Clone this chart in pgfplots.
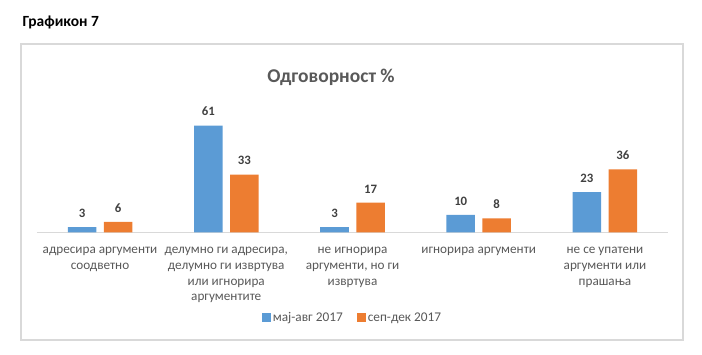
\documentclass[border=0pt]{standalone}
\usepackage{pgfplots}
\pgfplotsset{compat=1.18}
\usepackage{fontspec}
\setmainfont{Carlito}
\definecolor{cblue}{HTML}{5B9BD5}
\definecolor{corange}{HTML}{ED7D31}
\definecolor{tgray}{HTML}{595959}
\definecolor{lgray}{HTML}{404040}
\definecolor{fgray}{HTML}{D9D9D9}
\begin{document}
\begin{tikzpicture}
\path[use as bounding box] (0,0) rectangle (702pt,355pt);
\draw[fgray, line width=1.2pt] (21pt,311pt) rectangle (683pt,15pt);
\node[anchor=west, font=\bfseries\fontsize{15.5}{17}\selectfont] at (19pt,333pt) {Графикон 7};
\node[font=\bfseries\fontsize{19.5}{22}\selectfont, text=tgray] at (331pt,278pt) {Одговорност \%};
\begin{axis}[
  at={(36.9pt,122.7pt)}, anchor=south west,
  scale only axis, width=631.2pt, height=122.5pt,
  ymin=0, ymax=70, xmin=-0.5, xmax=4.5,
  hide y axis,
  axis x line*=bottom,
  x axis line style={fgray, line width=1pt, -},
  xtick=data,
  xtick style={draw=none},
  xticklabels={{адресира аргументи\\соодветно},{делумно ги адресира,\\делумно ги извртува\\или игнорира\\аргументите},{не игнорира\\аргументи, но ги\\извртува},{игнорира аргументи},{не се упатени\\аргументи или\\прашања}},
  xticklabel style={align=center, text=tgray, font=\fontsize{13.2}{15.8}\selectfont, yshift=-7pt},
  ybar, bar width=28.5pt,
  /pgf/number format/assume math mode=true,
  nodes near coords,
  every node near coord/.append style={font=\bfseries\fontsize{12.8}{14}\selectfont, text=lgray, yshift=6pt},
  legend style={at={(0.5,-0.698)}, anchor=center, draw=none, legend columns=2, font=\fontsize{13.3}{14}\selectfont, text=tgray, /tikz/every even column/.append style={column sep=12pt}, /tikz/every odd column/.append style={inner xsep=1pt}},
  legend image code/.code={\fill[#1] (0pt,-4.5pt) rectangle (9pt,4.5pt);},
  clip=false,
]
\addplot[fill=cblue, draw=none, bar shift=-18pt] coordinates {(0,3) (1,61) (2,3) (3,10) (4,23)};
\addplot[fill=corange, draw=none, bar shift=18pt] coordinates {(0,6) (1,33) (2,17) (3,8) (4,36)};
\legend{мај-авг 2017, сеп-дек 2017}
\end{axis}
\end{tikzpicture}
\end{document}
